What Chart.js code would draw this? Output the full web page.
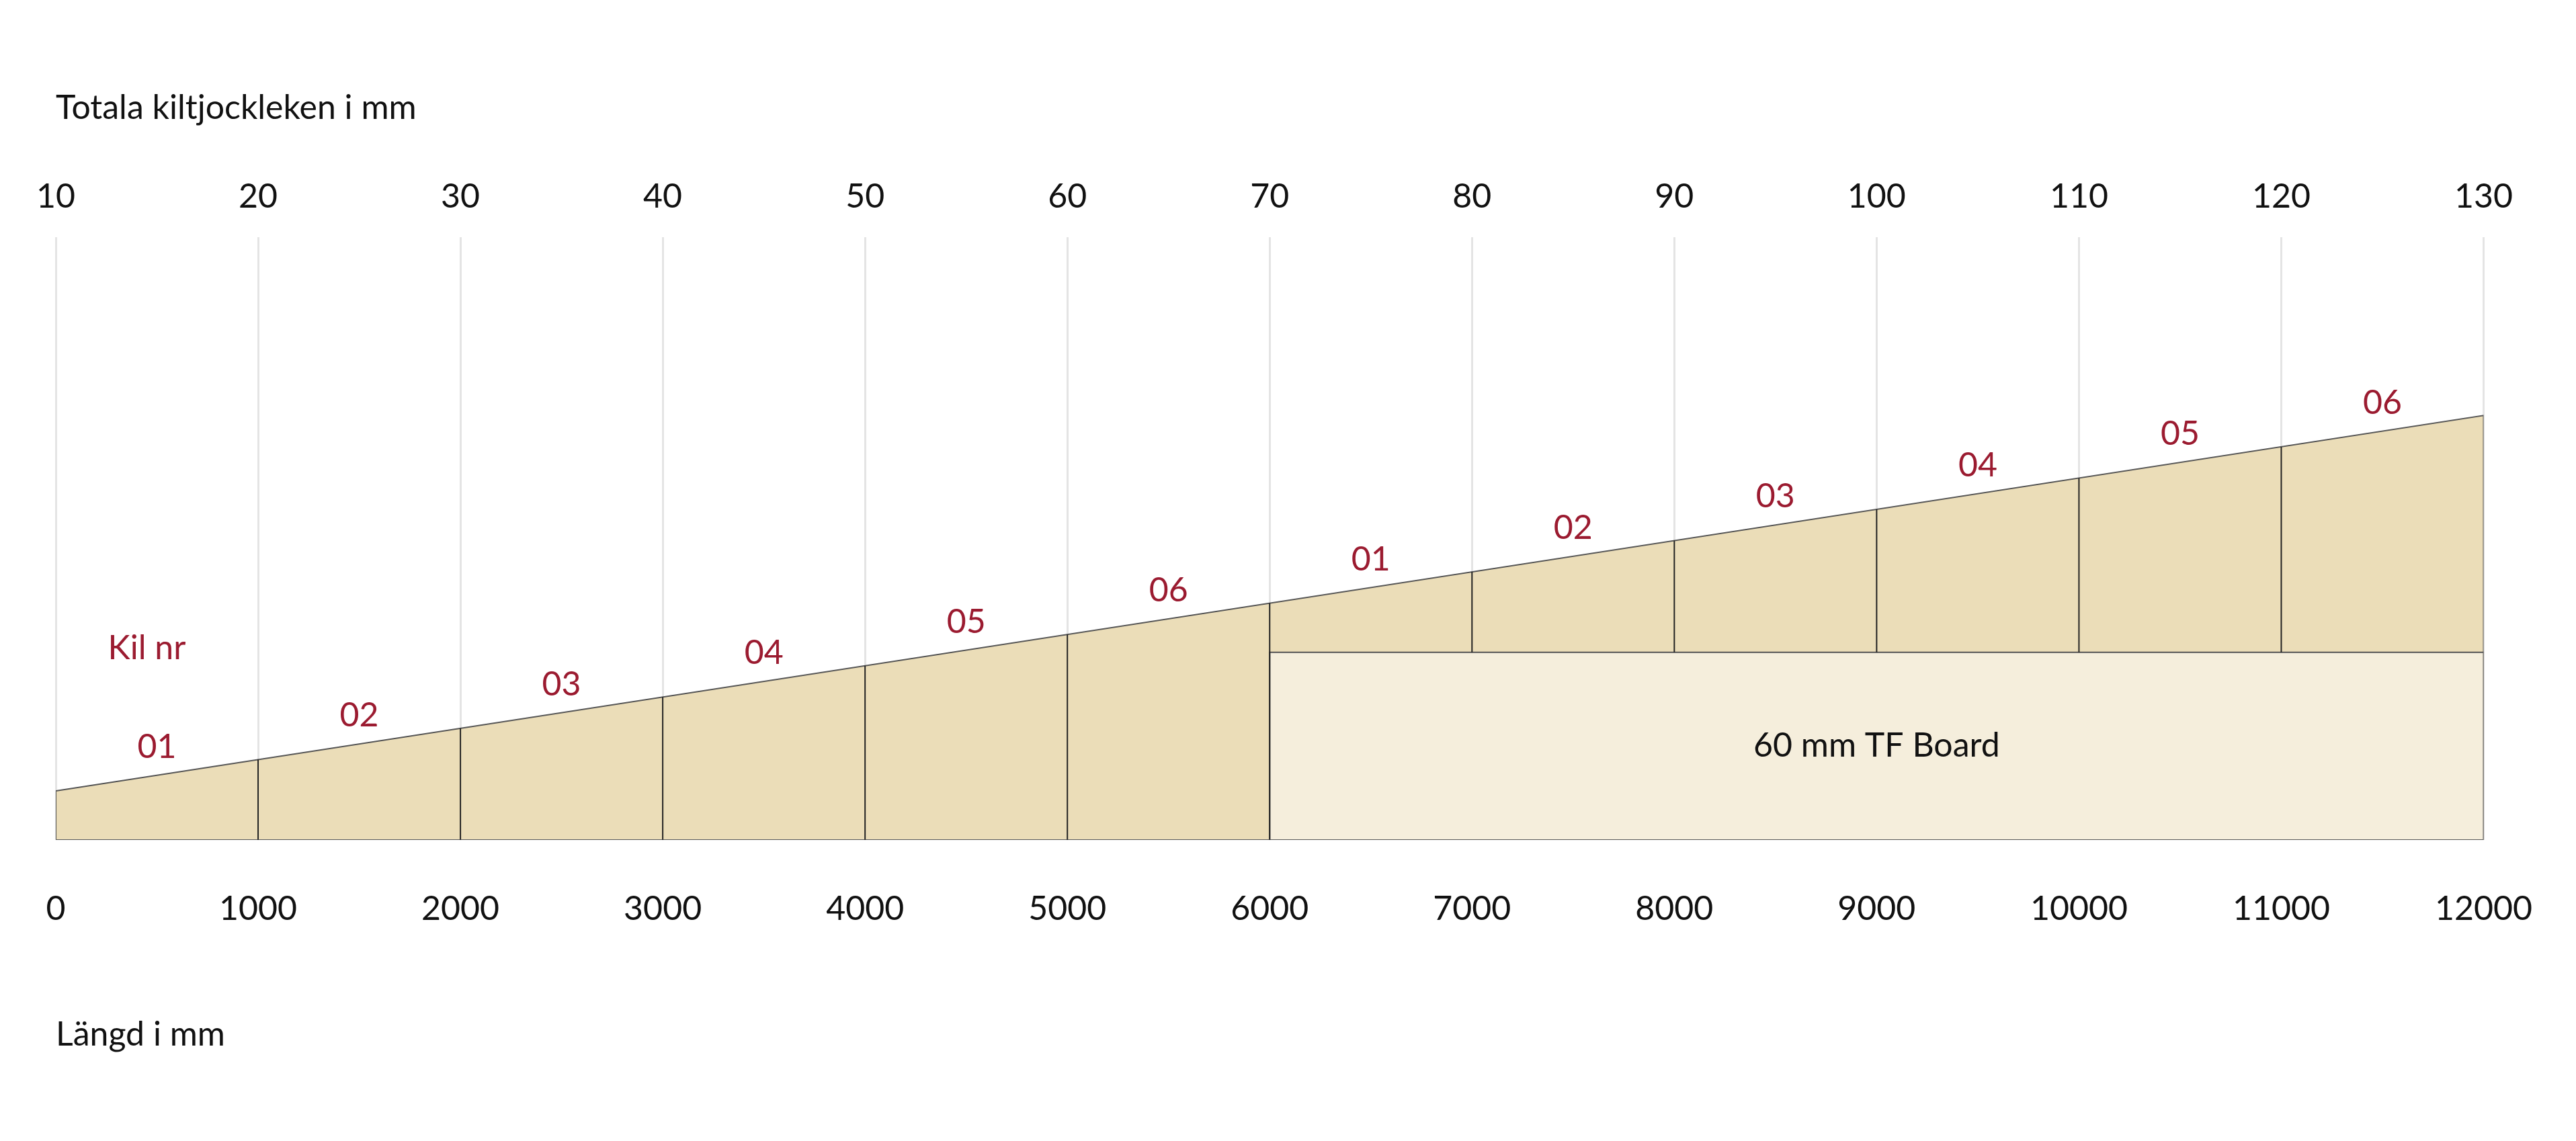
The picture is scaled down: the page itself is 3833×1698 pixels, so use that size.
<!DOCTYPE html>
<html>
<head>
<meta charset="utf-8">
<script src="https://cdn.jsdelivr.net/npm/chart.js@4/dist/chart.umd.min.js"></script>
<style>
  html, body { margin: 0; padding: 0; background: #fff; }
  #wrap { width: 3833px; height: 1698px; }
</style>
</head>
<body>
<div id="wrap"><canvas id="c"></canvas></div>
<script>
// Längd i mm (nedre axel) och total tjocklek (övre axel)
const langdTicks = [0, 1000, 2000, 3000, 4000, 5000, 6000, 7000, 8000, 9000, 10000, 11000, 12000];
const tjocklekTicks = [10, 20, 30, 40, 50, 60, 70, 80, 90, 100, 110, 120, 130];
const kilNr = ['01', '02', '03', '04', '05', '06', '01', '02', '03', '04', '05', '06'];
const kilMitt = [500, 1500, 2500, 3500, 4500, 5500, 6500, 7500, 8500, 9500, 10500, 11500];
const boardStart = 6000;
const boardTop = 54.3;   // överkant på 60 mm TF Board i diagrammets skala
const yBas = -5.7;

const topp = (x) => 10 + x * 0.01;  // överkant kil

// Kilens polygon
const kilData = [
  { x: 0, y: yBas }, { x: 0, y: topp(0) }, { x: 12000, y: topp(12000) },
  { x: 12000, y: yBas }, { x: 0, y: yBas }
];
const boardData = [
  { x: boardStart, y: yBas }, { x: boardStart, y: boardTop }, { x: 12000, y: boardTop },
  { x: 12000, y: yBas }, { x: boardStart, y: yBas }
];
// Skiljelinjer mellan kilarna
const delar = [];
langdTicks.slice(1, 12).forEach(x => {
  const bot = x > boardStart ? boardTop : yBas;
  delar.push({ x: x, y: bot }, { x: x, y: topp(x) }, { x: x, y: null });
});

const textPlugin = {
  id: 'texter',
  afterDatasetsDraw(chart) {
    const { ctx, scales: { x, y } } = chart;
    ctx.save();
    ctx.textAlign = 'center';
    ctx.textBaseline = 'middle';
    ctx.font = '50px Lato';
    ctx.fillStyle = '#9b1b30';
    kilNr.forEach((t, i) => {
      ctx.fillText(t, x.getPixelForValue(kilMitt[i]), y.getPixelForValue(topp(kilMitt[i]) + 9));
    });
    ctx.fillText('Kil nr', x.getPixelForValue(450), y.getPixelForValue(55.6));
    ctx.fillStyle = '#111';
    ctx.fillText('60 mm TF Board', x.getPixelForValue(9000), y.getPixelForValue((boardTop + yBas) / 2));
    ctx.textAlign = 'left';
    ctx.fillText('Totala kiltjockleken i mm', x.left, 161);
    ctx.fillText('Längd i mm', x.left, 1540);
    ctx.restore();
  }
};

new Chart(document.getElementById('c'), {
  type: 'line',
  data: {
    datasets: [
      { data: delar, borderColor: '#222', borderWidth: 2, pointRadius: 0, spanGaps: false, fill: false },
      { data: boardData, borderColor: '#555', borderWidth: 2, pointRadius: 0, backgroundColor: '#f5eedc', fill: 'shape', tension: 0 },
      { data: kilData, borderColor: '#555', borderWidth: 2, pointRadius: 0, backgroundColor: '#ebddb8', fill: 'shape', tension: 0 }
    ]
  },
  options: {
    responsive: true,
    maintainAspectRatio: false,
    animation: false,
    layout: { padding: { left: 83, right: 68, top: 233, bottom: 250 } },
    plugins: { legend: { display: false }, tooltip: { enabled: false } },
    scales: {
      x: {
        type: 'linear', min: 0, max: 12000, position: 'bottom',
        afterBuildTicks: (s) => { s.ticks = langdTicks.map(v => ({ value: v })); },
        ticks: { font: { family: 'Lato', size: 50 }, color: '#111', padding: 65, maxRotation: 0,
                 callback: (v) => String(v) },
        grid: { display: false }, border: { display: false }
      },
      x2: {
        type: 'linear', min: 10, max: 130, position: 'top',
        afterBuildTicks: (s) => { s.ticks = tjocklekTicks.map(v => ({ value: v })); },
        ticks: { font: { family: 'Lato', size: 50 }, color: '#111', padding: 30, maxRotation: 0 },
        grid: { color: '#e4e4e4', lineWidth: 3, drawTicks: false }, border: { display: false }
      },
      y: { type: 'linear', min: yBas, max: 187, display: false }
    }
  },
  plugins: [textPlugin]
});
</script>
</body>
</html>
